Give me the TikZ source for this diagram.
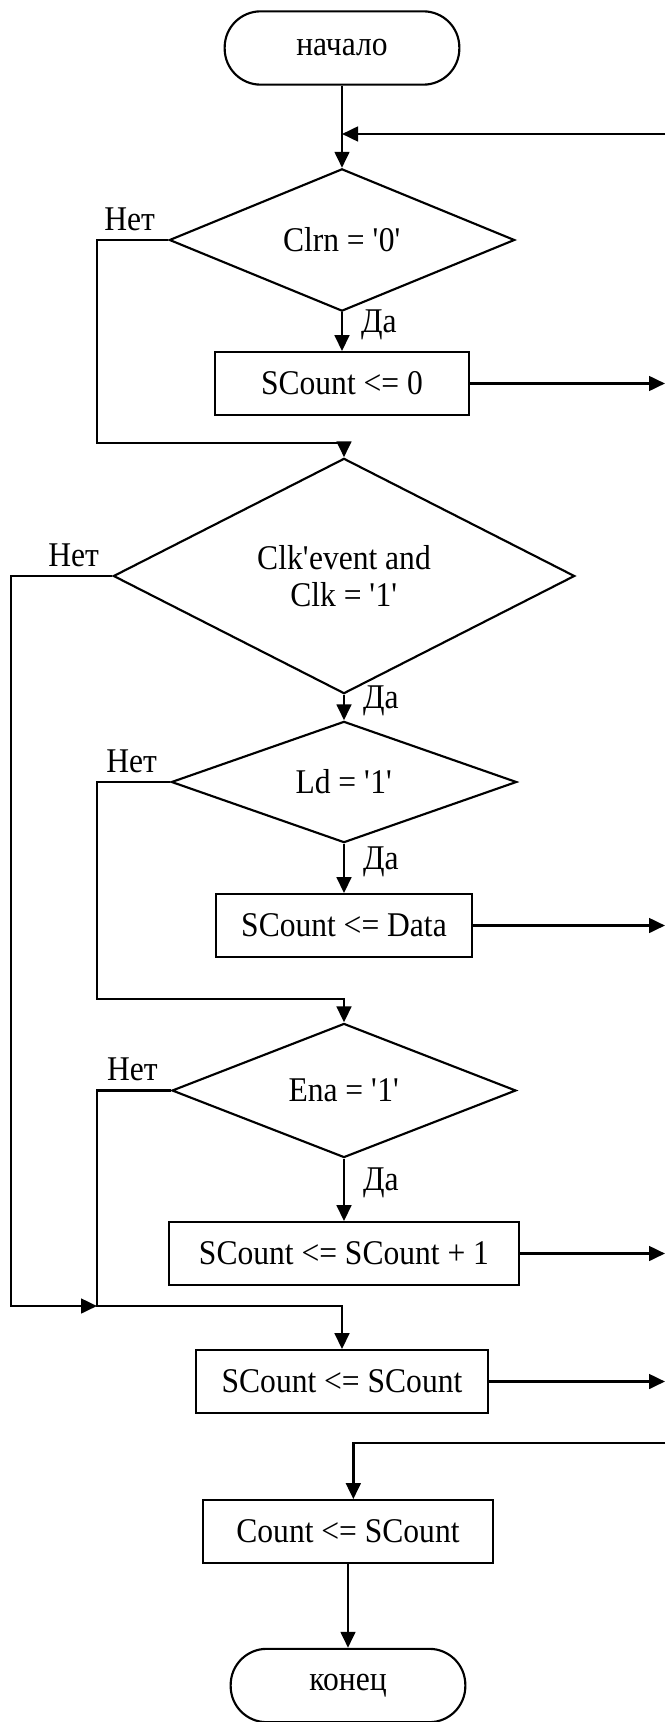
\documentclass[tikz,border=0pt]{standalone}
\usepackage{fontspec}
\setmainfont[FakeStretch=0.91]{Liberation Serif}
\usetikzlibrary{shapes.geometric,arrows.meta}
\newcommand\qt{\textquotesingle}

\begin{document}
\begin{tikzpicture}[x=.75pt,y=-.75pt,line width=1.6pt,
      every node/.style={font=\fontsize{26}{28}\selectfont},
      term/.style={draw,rounded corners=27pt,minimum width=176pt,minimum height=55pt},
      act/.style={draw,minimum height=47pt,inner sep=0pt},
      cond/.style={draw,diamond,inner sep=0pt,minimum width=259pt,minimum height=71pt},
      yes/.style={midway,right=10pt,yshift=5pt},
      no/.style={above left,inner xsep=9pt,inner ysep=6pt},
      arr/.style={line width=2pt,-{Triangle[length=12pt,width=11pt]}}]
      \useasboundingbox (0,0) rectangle (665,1722);
      \node[term] (start) at (342,48) {начало};
      \node[cond] (d1) at (342,240) {Clrn = \qt0\qt};
      \node[act,minimum width=191pt] (b1) at (342,383.5) {SCount <= 0};
      \node[cond,minimum width=346pt,minimum height=139pt,align=center] (d2) at (344,576)
        {Clk\qt event and\\Clk = \qt1\qt};
      \node[cond] (d3) at (344,782) {Ld = \qt1\qt};
      \node[act,minimum width=192pt] (b2) at (344,925.5) {SCount <= Data};
      \node[cond,minimum width=258pt] (d4) at (344,1090.5) {Ena = \qt1\qt};
      \node[act,minimum width=262pt] (b3) at (344,1253.5) {SCount <= SCount + 1};
      \node[act,minimum width=219pt] (b4) at (342,1381.5) {SCount <= SCount};
      \node[act,minimum width=218pt] (b5) at (348,1531.5) {Count <= SCount};
      \node[term] (end) at (348,1685.5) {конец};
      \coordinate (rt) at (665,0);
      \coordinate (loopin) at (665,134);
      \coordinate (back) at (665,1443);
      \coordinate (n1) at (97,443);
      \coordinate (n2) at (11,1306);
      \coordinate (n3) at (97,999);
      \coordinate (j) at (97,1306);
      \draw[arr] (start) -- (d1);
      \draw[arr] (loopin) -- (loopin -| start);
      \draw[arr] (d1) -- node[yes] {Да} (b1);
      \draw[arr] (b1) -- (b1 -| rt);
      \draw[arr] (d1.west) node[no] {Нет} -| (n1) -| (d2.north);
      \draw[arr] (d2) -- node[yes] {Да} (d3);
      \draw[arr] (d2.west) node[no] {Нет} -| (n2) -- (j);
      \draw[arr] (d3) -- node[yes] {Да} (b2);
      \draw[arr] (b2) -- (b2 -| rt);
      \draw[arr] (d3.west) node[no] {Нет} -| (n3) -| (d4.north);
      \draw[arr] (d4) -- node[yes] {Да} (b3);
      \draw[arr] (b3) -- (b3 -| rt);
      \draw[arr] (d4.west) node[no] {Нет} -| (j) -| (b4.north);
      \draw[arr] (b4) -- (b4 -| rt);
      \draw[arr] (back) -| ([xshift=4pt]b5.north);
      \draw[arr] (b5) -- (end);
    \end{tikzpicture}
\end{document}
